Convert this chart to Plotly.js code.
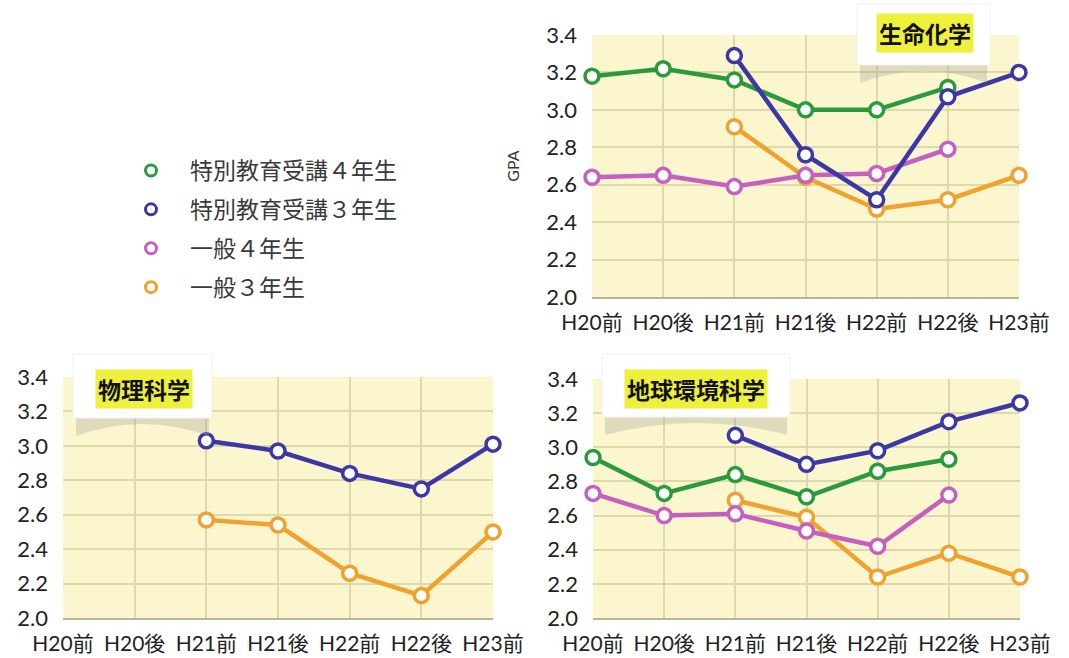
<!DOCTYPE html>
<html>
<head>
<meta charset="utf-8">
<script src="https://cdn.plot.ly/plotly-3.0.1.min.js"></script>
<style>
  html, body { margin: 0; padding: 0; background: #ffffff; }
  #chart { width: 1069px; height: 658px; }
</style>
</head>
<body>
<div id="chart"></div>
<script>
// Semesters on the x axis
const categories = ['H20前', 'H20後', 'H21前', 'H21後', 'H22前', 'H22後', 'H23前'];

// Group names
const groupNames = ['特別教育受講４年生', '特別教育受講３年生', '一般４年生', '一般３年生'];

// 生命化学 GPA
const bioSp4  = [3.18, 3.22, 3.16, 3.00, 3.00, 3.12, null];
const bioSp3  = [null, null, 3.29, 2.76, 2.52, 3.07, 3.20];
const bioGen4 = [2.64, 2.65, 2.59, 2.65, 2.66, 2.79, null];
const bioGen3 = [null, null, 2.91, 2.64, 2.47, 2.52, 2.65];

// 物理科学 GPA
const physSp3  = [null, null, 3.03, 2.97, 2.84, 2.75, 3.01];
const physGen3 = [null, null, 2.57, 2.54, 2.26, 2.13, 2.50];

// 地球環境科学 GPA
const earthSp4  = [2.94, 2.73, 2.84, 2.71, 2.86, 2.93, null];
const earthSp3  = [null, null, 3.07, 2.90, 2.98, 3.15, 3.26];
const earthGen4 = [2.73, 2.60, 2.61, 2.51, 2.42, 2.72, null];
const earthGen3 = [null, null, 2.69, 2.59, 2.24, 2.38, 2.24];

// Panel titles
const panelTitles = ['生命化学', '物理科学', '地球環境科学'];

const W = 1069, H = 658;
const px = v => v / W;
const py = v => 1 - v / H;

const colors = ['#2b9a3c', '#3b38a6', '#c55fc0', '#f0a22e'];
const FONT = 'Lato, "Noto Sans CJK JP", sans-serif';

function series(y, gi, xa, ya) {
  return {
    x: categories, y: y, xaxis: xa, yaxis: ya,
    type: 'scatter', mode: 'lines+markers',
    name: groupNames[gi], showlegend: false, cliponaxis: false,
    connectgaps: false,
    line: { color: colors[gi], width: 4.5 },
    marker: { symbol: 'circle', size: 14, color: '#ffffff',
              line: { color: colors[gi], width: 3.5 } },
    hoverinfo: 'x+y+name'
  };
}

const traces = [
  // 生命化学 (top right)
  series(bioGen3, 3, 'x', 'y'),
  series(bioGen4, 2, 'x', 'y'),
  series(bioSp4, 0, 'x', 'y'),
  series(bioSp3, 1, 'x', 'y'),
  // 物理科学 (bottom left)
  series(physGen3, 3, 'x2', 'y2'),
  series(physSp3, 1, 'x2', 'y2'),
  // 地球環境科学 (bottom right)
  series(earthGen3, 3, 'x3', 'y3'),
  series(earthGen4, 2, 'x3', 'y3'),
  series(earthSp4, 0, 'x3', 'y3'),
  series(earthSp3, 1, 'x3', 'y3')
];

// Legend entries (marker only)
groupNames.forEach((n, i) => {
  traces.push({
    x: [null], y: [null], xaxis: 'x', yaxis: 'y',
    type: 'scatter', mode: 'markers', name: n,
    legendgroup: 'g' + i, legendrank: i + 1, showlegend: true,
    marker: { symbol: 'circle', size: 11, color: '#ffffff',
              line: { color: colors[i], width: 3 } },
    hoverinfo: 'skip'
  });
});

function xAxis(domain, anchor) {
  return {
    domain: domain, anchor: anchor, type: 'category',
    categoryorder: 'array', categoryarray: categories,
    range: [0, 6], fixedrange: true,
    showgrid: true, gridcolor: '#ddd9aa', gridwidth: 1.5,
    showline: true, linecolor: '#b9b69a', linewidth: 2,
    zeroline: false, ticks: '', ticklabelstandoff: 6,
    tickfont: { family: FONT, size: 21, color: '#222' }
  };
}
function yAxis(domain, anchor, title) {
  const a = {
    domain: domain, anchor: anchor, range: [2.0, 3.4], dtick: 0.2,
    tickformat: '.1f', fixedrange: true,
    showgrid: true, gridcolor: '#ddd9aa', gridwidth: 1.5,
    showline: false, zeroline: false, ticks: '', ticklabelstandoff: 14,
    tickfont: { family: FONT, size: 22, color: '#222' }
  };
  if (title) {
    a.title = { text: title, standoff: 22,
                font: { family: 'Lato, sans-serif', size: 16, color: '#333' } };
  }
  return a;
}

const shapes = [];
const annotations = [];

// Title card: white card with a curled shadow underneath and a highlighted label
function titleCard(x0, x1, y0, y1, cx, cy, label) {
  shapes.push({
    type: 'path', xref: 'paper', yref: 'paper', layer: 'above',
    path: `M ${px(x0 + 3)},${py(y1 - 2)} L ${px(x0 + 3)},${py(y1 + 18)} ` +
          `Q ${px((x0 + x1) / 2)},${py(y1 - 6)} ${px(x1 - 3)},${py(y1 + 18)} ` +
          `L ${px(x1 - 3)},${py(y1 - 2)} Z`,
    fillcolor: 'rgba(160,160,150,0.32)', line: { width: 0 }
  });
  shapes.push({
    type: 'rect', xref: 'paper', yref: 'paper', layer: 'above',
    x0: px(x0), x1: px(x1), y0: py(y1), y1: py(y0),
    fillcolor: '#ffffff', line: { color: '#f0f0f0', width: 1 }
  });
  annotations.push({
    xref: 'paper', yref: 'paper', x: px(cx), y: py(cy),
    xanchor: 'center', yanchor: 'middle', showarrow: false,
    text: '<b>' + label + '</b>', bgcolor: '#eef03a', borderpad: 2,
    font: { family: '"Noto Sans CJK JP", sans-serif', size: 23, color: '#111' }
  });
}

titleCard(857, 990, 4, 65, 925, 33, panelTitles[0]);
titleCard(73, 212, 354, 418, 144, 389, panelTitles[1]);
titleCard(602, 790, 354, 417, 696, 389, panelTitles[2]);

const layout = {
  width: W, height: H,
  margin: { l: 0, r: 0, t: 0, b: 0 },
  paper_bgcolor: '#ffffff',
  plot_bgcolor: '#fcf6cf',
  showlegend: true,
  legend: {
    x: px(112), y: py(149), xanchor: 'left', yanchor: 'top',
    bgcolor: 'rgba(0,0,0,0)', tracegroupgap: 6, itemwidth: 68,
    font: { family: '"Noto Sans CJK JP", sans-serif', size: 23, color: '#3a3a3a' }
  },
  xaxis: xAxis([px(592), px(1019)], 'y'),
  yaxis: yAxis([py(297), py(35)], 'x', 'GPA'),
  xaxis2: xAxis([px(63), px(493)], 'y2'),
  yaxis2: yAxis([py(618), py(377)], 'x2'),
  xaxis3: xAxis([px(593), px(1020)], 'y3'),
  yaxis3: yAxis([py(618), py(379)], 'x3'),
  shapes: shapes,
  annotations: annotations
};

Plotly.newPlot('chart', traces, layout, { displayModeBar: false, responsive: false });
</script>
</body>
</html>
